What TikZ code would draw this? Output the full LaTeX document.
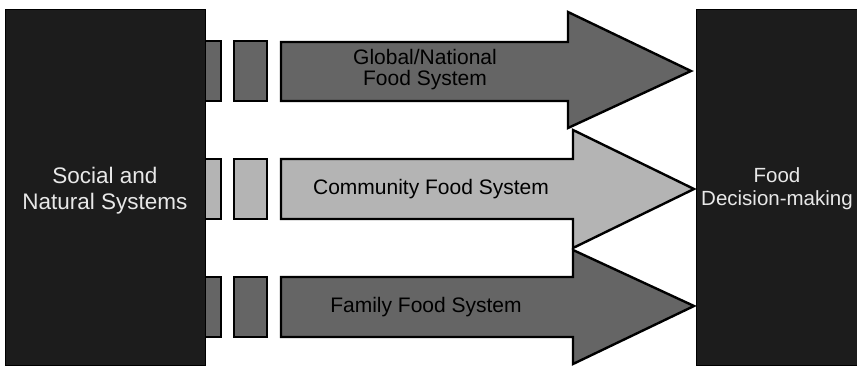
\documentclass[tikz,border=0pt]{standalone}
\usepackage{fontspec}
\setmainfont{Liberation Sans}
\usepackage{xcolor}
\definecolor{boxblack}{HTML}{1C1C1C}
\definecolor{flowdark}{HTML}{656565}
\definecolor{flowlight}{HTML}{B4B4B4}
\definecolor{boxtextgray}{HTML}{E8E8E8}

\begin{document}
\begin{tikzpicture}[x=1pt,y=-1pt,
    darkflow/.style={draw=black,line width=2.4pt,fill=flowdark},
    lightflow/.style={draw=black,line width=2.4pt,fill=flowlight},
    sysbox/.style={draw=black,line width=1pt,fill=boxblack,inner sep=0pt},
    boxlabel/.style={text=boxtextgray,align=center},
    flowlabel/.style={text=black,align=center,font=\fontsize{21}{21}\selectfont}]
        \useasboundingbox[fill=white] (0,0) rectangle (857,366);

        \draw[darkflow] (187,41) rectangle (221,101);
        \draw[darkflow] (234,41) rectangle (267,101);
        \draw[lightflow] (187,159) rectangle (221,219);
        \draw[lightflow] (234,159) rectangle (267,219);
        \draw[darkflow] (187,277) rectangle (221,337);
        \draw[darkflow] (234,277) rectangle (267,337);

        \node[sysbox,minimum width=200pt,minimum height=355pt] (social) at (105,187.5) {};
        \node[sysbox,minimum width=162pt,minimum height=355pt] (decision) at (777,187.5) {};

        \draw[darkflow] (281,42) -- (568,42) -- (568,12) -- (691,71) -- (568,128) -- (568,101) -- (281,101) -- cycle;
        \draw[lightflow] (281,159) -- (573,159) -- (573,130) -- (694,189) -- (573,248) -- (573,219) -- (281,219) -- cycle;
        \draw[darkflow] (281,277) -- (573,277) -- (573,250) -- (694,306) -- (573,364) -- (573,337) -- (281,337) -- cycle;

        \node[boxlabel,font=\fontsize{22.5}{26}\selectfont] (sociallabel) at (105,191) {Social and\\Natural Systems};
        \node[boxlabel,font=\fontsize{20.5}{23}\selectfont] (decisionlabel) at (777,189) {Food\\Decision-making};

        \node[flowlabel] (globallabel) at (425,70) {Global/National\\Food System};
        \node[flowlabel] (communitylabel) at (431,189) {Community Food System};
        \node[flowlabel] (familylabel) at (426,307) {Family Food System};
    \end{tikzpicture}
\end{document}
